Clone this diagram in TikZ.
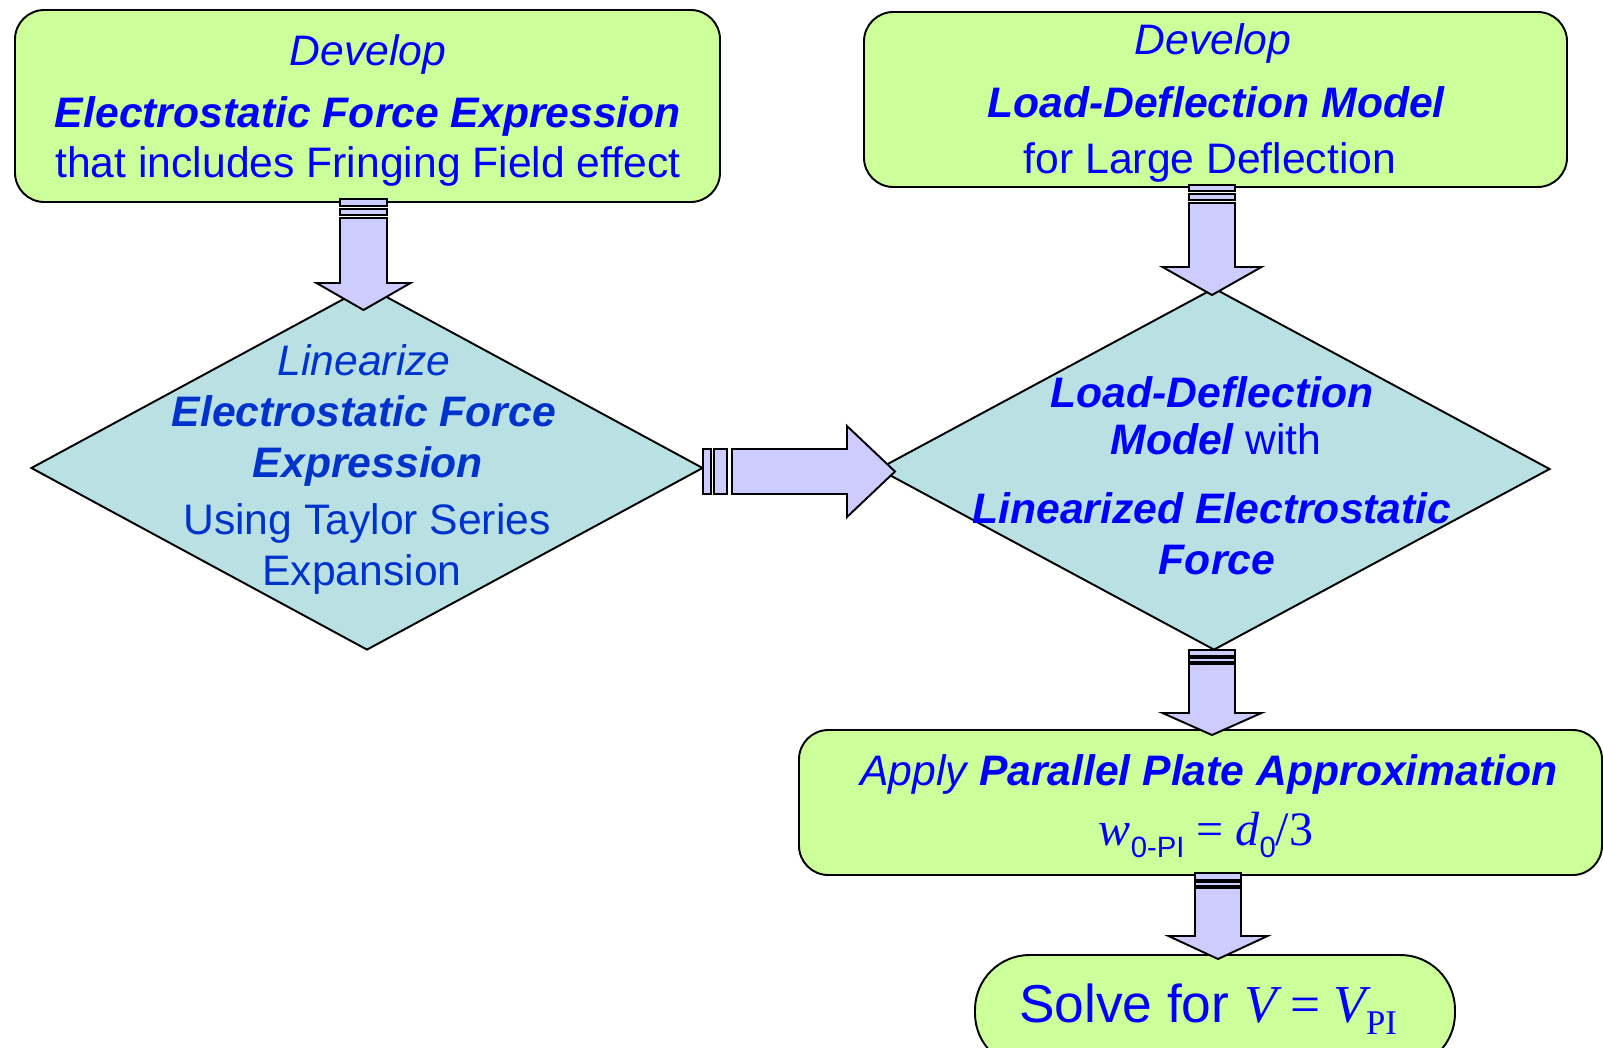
\documentclass[tikz,border=0pt]{standalone}
\usepackage{fontspec}
\setmainfont{Liberation Sans}
\newfontfamily\seriffont{Liberation Serif}
\usetikzlibrary{shapes.geometric}
\definecolor{boxgreen}{HTML}{CCFF99}
\definecolor{diacyan}{HTML}{B9E0E3}
\definecolor{arrowlav}{HTML}{CCCCFF}
\definecolor{txtblue}{HTML}{0000FF}
\definecolor{diablue}{HTML}{0033CC}
\begin{document}
\begin{tikzpicture}[x=0.75pt,y=-0.75pt,line width=1.45pt,
  boxst/.style={draw=black,fill=boxgreen,rounded corners=22pt,inner sep=0pt},
  termst/.style={draw=black,fill=boxgreen,rounded corners=41pt,inner sep=0pt},
  diast/.style={diamond,draw=black,fill=diacyan,inner sep=0pt,line join=miter},
  arrst/.style={draw=black,fill=arrowlav,line join=miter},
  txt/.style={anchor=base,inner sep=0pt,text=txtblue,font=\fontsize{32}{38}\selectfont},
  dtxt/.style={txt,text=diablue},
  bi/.style={font=\fontsize{32}{38}\selectfont\bfseries\itshape},
  it/.style={font=\fontsize{32}{38}\selectfont\itshape}]
\useasboundingbox (0,0) rectangle (1603,1047);
% shapes
\node[boxst,minimum width=528.75pt,minimum height=144pt] (b1) at (367.5,106) {};
\node[boxst,minimum width=527.25pt,minimum height=131.25pt] (b2) at (1215.5,99.5) {};
\node[diast,minimum width=504pt,minimum height=273pt] (d1) at (367,468) {};
\node[diast,minimum width=504pt,minimum height=271.5pt] (d2) at (1214,469) {};
\node[boxst,minimum width=602.25pt,minimum height=108.75pt] (b3) at (1200.5,802.5) {};
\node[termst,minimum width=360pt,minimum height=84.75pt] (t1) at (1215,1011.5) {};
% block arrows
\draw[arrst] (340,199) rectangle (387,206);
\draw[arrst] (340,209) rectangle (387,215);
\draw[arrst] (340,218) -- (387,218) -- (387,283) -- (410.5,283) -- (363.5,310) -- (316.5,283) -- (340,283) -- cycle;
\draw[arrst] (1189,185) rectangle (1235,191);
\draw[arrst] (1189,194) rectangle (1235,200);
\draw[arrst] (1189,203) -- (1235,203) -- (1235,267) -- (1261.5,267) -- (1212,295) -- (1162.5,267) -- (1189,267) -- cycle;
\draw[arrst] (1189,650) rectangle (1235,656);
\draw[arrst] (1189,658) rectangle (1235,662);
\draw[arrst] (1189,664) -- (1235,664) -- (1235,713) -- (1261.5,713) -- (1212,735) -- (1162.5,713) -- (1189,713) -- cycle;
\draw[arrst] (1195,873) rectangle (1241,880);
\draw[arrst] (1195,882) rectangle (1241,886);
\draw[arrst] (1195,888) -- (1241,888) -- (1241,936) -- (1267.5,936) -- (1218,959) -- (1168.5,936) -- (1195,936) -- cycle;
\draw[arrst] (703,449) rectangle (711,494);
\draw[arrst] (714,449) rectangle (727,494);
\draw[arrst] (732,449) -- (847,449) -- (847,426) -- (895,471.5) -- (847,517) -- (847,494) -- (732,494) -- cycle;
% box 1 text
\node[txt,it] (b1l1) at (368,65) {Develop};
\node[txt,bi] (b1l2) at (368,127) {Electrostatic Force Expression};
\node[txt] (b1l3) at (368,177) {that includes Fringing Field effect};
% box 2 text
\node[txt,it] (b2l1) at (1213,54) {Develop};
\node[txt,bi] (b2l2) at (1216,117) {Load-Deflection Model};
\node[txt] (b2l3) at (1210,173) {for Large Deflection};
% diamond 1 text
\node[dtxt,it] (d1l1) at (364,375) {Linearize};
\node[dtxt,bi] (d1l2) at (364,426) {Electrostatic Force};
\node[dtxt,bi] (d1l3) at (368,477) {Expression};
\node[dtxt] (d1l4) at (367,534) {Using Taylor Series};
\node[dtxt] (d1l5) at (362,585) {Expansion};
% diamond 2 text
\node[txt,bi] (d2l1) at (1212,407) {Load-Deflection};
\node[txt] (d2l2) at (1216,454) {{\bfseries\itshape Model} with};
\node[txt,bi] (d2l3) at (1212,523) {Linearized Electrostatic};
\node[txt,bi] (d2l4) at (1217,574) {Force};
% box 3 text
\node[txt] (b3l1) at (1209,785) {{\itshape Apply }{\bfseries\itshape Parallel Plate Approximation}};
\node[txt] (b3l2) at (1206,845) {\fontsize{36}{42}\selectfont{\seriffont\itshape w}\raisebox{-9pt}{\fontsize{22}{26}\selectfont 0-PI}{\seriffont\ =\ }{\seriffont\itshape d}\raisebox{-9pt}{\fontsize{22}{26}\selectfont 0}{\seriffont /3}};
% terminator text
\node[txt] (t1l1) at (1208,1022) {\fontsize{40}{46}\selectfont Solve for {\seriffont\itshape V}{\seriffont\ =\ }{\seriffont\itshape V}\raisebox{-9pt}{\seriffont\fontsize{26}{30}\selectfont PI}};
\end{tikzpicture}
\end{document}
